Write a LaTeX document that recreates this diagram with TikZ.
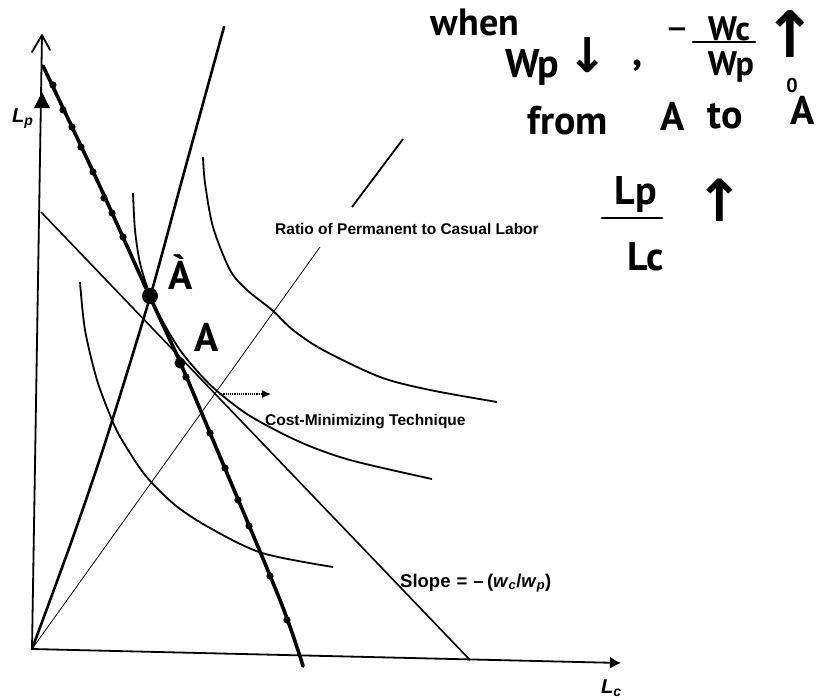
\documentclass[tikz,border=0pt]{standalone}
\usepackage{fontspec}
\setmainfont{Liberation Sans}
\newfontfamily\handfont{PT Sans}
\newfontfamily\symfont{DejaVu Sans}
\usepackage{tikz}
\usetikzlibrary{arrows.meta}
\tikzstyle{achse} = [line width=1.8pt]
\tikzstyle{isoquant} = [line width=1.8pt]
\tikzstyle{isocost} = [line width=1.6pt]
\tikzstyle{newcost} = [line width=3.6pt, line cap=round]
\tikzstyle{ray} = [line width=2.6pt, line cap=round]
\tikzstyle{thinray} = [line width=0.8pt]
\tikzstyle{txt} = [inner sep=0pt, anchor=base west, font=\bfseries\fontsize{15.5}{17}\selectfont]
\tikzstyle{hand} = [inner sep=0pt, font=\handfont\bfseries\fontsize{40}{44}\selectfont]
\tikzstyle{handstroke} = [line width=2.8pt, line cap=round]

\begin{document}
\begin{tikzpicture}[x=1pt, y=-1pt]
	\fill[white] (0,0) rectangle (826,699); % Hintergrund
	\useasboundingbox (0,0) rectangle (826,699); % Rahmen
	% Achsen
	\coordinate (O) at (32,649);
	\coordinate (ytop) at (42,35);
	\coordinate (xend) at (621,663);
	\draw[achse] (O) -- (ytop); % L_p-Achse
	\draw[achse, -{Latex[length=11pt,width=12pt]}] (O) -- (xend); % L_c-Achse
	\draw[achse, line cap=round, line join=round] (32,52) -- (ytop) -- (50,50); % offene Spitze
	\fill (42,92) -- (50,108) -- (34,108) -- cycle; % Spitze auf der Achse
	\node[txt, font=\bfseries\itshape\fontsize{20}{22}\selectfont] (Lp) at (12,122) {L\textsubscript{p}};
	\node[txt, font=\bfseries\itshape\fontsize{20}{22}\selectfont] (Lc) at (601,693) {L\textsubscript{c}};
	% Isoquanten
	\draw[isoquant] plot[smooth] coordinates {(80,282) (85,330) (97,380) (112,420) (122,440) (145,475) (175,505) (210,528) (262,553) (333,567)}; % innen
	\draw[isoquant] plot[smooth] coordinates {(133,193) (135,230) (140,263) (150,295) (163,322) (180,350) (198,372) (217,391) (250,416) (300,442) (350,460) (432,479)}; % mitte
	\draw[isoquant] plot[smooth] coordinates {(203,157) (205,183) (213,227) (230,270) (247,290) (272,310) (293,330) (323,350) (380,377) (430,390) (497,402)}; % aussen
	% Isokostenlinien
	\coordinate (c1) at (41,212);
	\coordinate (c2) at (470,660);
	\draw[isocost] (c1) -- (c2); % alte Isokostenlinie
	\draw[newcost] plot[smooth] coordinates {(43,66) (97,180) (150,297) (180,362) (213,440) (280,600) (303,666)}; % neue Isokostenlinie
	% Strahlen
	\coordinate (r1) at (320,247);
	\coordinate (r2) at (352,207);
	\coordinate (r3) at (403,139);
	\draw[thinray] (O) -- (r1); % Verhaeltnis L_p/L_c
	\draw[line width=1.8pt] (r2) -- (r3);
	\draw[ray] plot[smooth] coordinates {(32,649) (72,540) (106,440) (150,297) (182,180) (224,27)}; % neuer Strahl
	% Punkte
	\fill (53,85) circle (3.6pt) (63,110) circle (3.6pt) (72,127) circle (3.6pt) (81,147) circle (3.6pt)
		(93,172) circle (3.6pt) (104,198) circle (3.6pt) (112,213) circle (3.6pt) (123,237) circle (3.6pt)
		(186,377) circle (3.6pt) (210,433) circle (3.6pt) (225,468) circle (3.6pt) (238,500) circle (3.6pt)
		(249,526) circle (3.6pt) (270,576) circle (3.6pt) (287,620) circle (3.6pt);
	\coordinate (Ap) at (150,296);
	\coordinate (A) at (180,363);
	\fill (Ap) circle (8pt); % A'
	\fill (A) circle (5.5pt); % A
	\node[hand] (lblAp) at (181,272) {\`A};
	\node[hand] (lblA) at (207,337) {A};
	% Beschriftungen
	\node[txt] (ratio) at (275,234) {Ratio of Permanent to Casual Labor};
	\node[txt] (cost) at (265,425) {Cost-Minimizing Technique};
	\coordinate (costfrom) at (219,394);
	\coordinate (costto) at (271,394);
	\draw[densely dotted, line width=1.2pt, -{Latex[length=9pt,width=8pt]}] (costfrom) -- (costto);
	\node[txt, font=\bfseries\fontsize{18.5}{20}\selectfont] (slope) at (400,587) {Slope\,\,=\,\,–\,(\textit{w}\textsubscript{\textit{c}}/\textit{w}\textsubscript{\textit{p}})};
	% Notiz oben rechts
	\node[hand, font=\handfont\bfseries\fontsize{38}{42}\selectfont] (when) at (475,22) {when};
	\node[hand, anchor=base west] (wp) at (505,77) {Wp};
	\node[hand, font=\symfont\bfseries\fontsize{48}{52}\selectfont] (down) at (588,55) {↓};
	\node[hand] (komma) at (638,66) {,};
	\node[hand, font=\symfont\bfseries\fontsize{26}{28}\selectfont] (minus) at (677,33) {−};
	\node[hand, font=\handfont\bfseries\fontsize{34}{38}\selectfont] (wc) at (729,29) {Wc};
	\draw[handstroke] (693,42) -- (755,42); % Bruchstrich
	\node[hand, font=\handfont\bfseries\fontsize{34}{38}\selectfont] (wpb) at (731,67) {Wp};
	\node[hand, font=\symfont\bfseries\fontsize{64}{68}\selectfont] (up) at (790,34) {↑};
	\node[hand, font=\handfont\bfseries\fontsize{20}{24}\selectfont] (null) at (792,85) {0};
	\node[hand, anchor=base west] (from) at (527,134) {from};
	\node[hand, anchor=base west] (fa) at (660,130) {A};
	\node[hand, anchor=base west] (to) at (707,128) {to};
	\node[hand, anchor=base west] (ta) at (790,124) {A};
	\node[hand] (lpz) at (636,194) {Lp};
	\draw[handstroke] (602,218) -- (662,218); % Bruchstrich
	\node[hand] (lcn) at (646,257) {Lc};
	\node[hand, font=\symfont\bfseries\fontsize{58}{62}\selectfont] (up2) at (720,200) {↑};
\end{tikzpicture}
\end{document}
